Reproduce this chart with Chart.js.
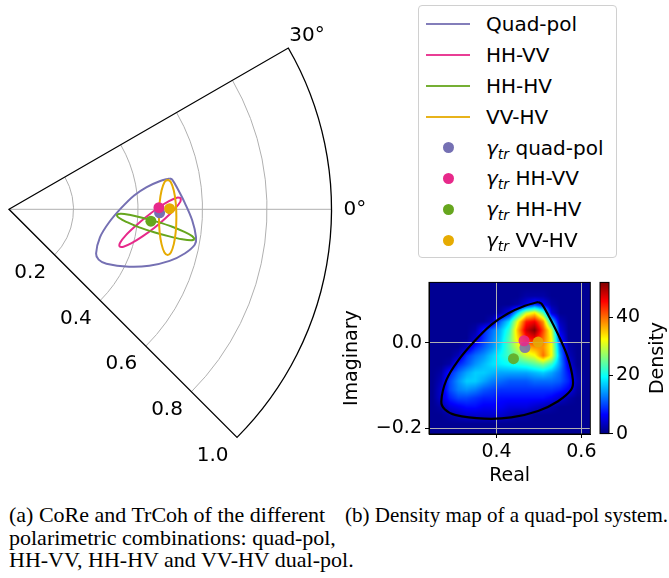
<!DOCTYPE html>
<html>
<head>
<meta charset="utf-8">
<script src="https://cdn.jsdelivr.net/npm/chart.js@4/dist/chart.umd.min.js"></script>
<style>
  html, body { margin: 0; padding: 0; background: #fff; }
  #page { position: relative; width: 669px; height: 578px; overflow: hidden; font-family: "DejaVu Sans", sans-serif; }
  canvas { position: absolute; }
  #polar { left: 0; top: 0; }
  #density { left: 341px; top: 268px; }
  #cbar { left: 595px; top: 268px; }
  #legend { position: absolute; left: 418px; top: 5px; width: 199px; height: 253px; box-sizing: border-box;
            border: 1px solid #d0d0d0; border-radius: 4px; background: #fff; }
  .row { position: absolute; left: 0; width: 100%; height: 24px; }
  .row .hl { position: absolute; left: 7px; top: 11px; width: 44px; height: 2px; opacity: 0.9; }
  .row .dot { position: absolute; left: 23.5px; top: 6.3px; width: 11.4px; height: 11.4px; border-radius: 50%; }
  .row .lbl { position: absolute; left: 67px; top: 0; line-height: 24px; font-size: 20px; white-space: nowrap; color: #000; }
  .row .lbl i { font-style: italic; }
  .row .lbl sub { font-size: 14px; font-style: italic; vertical-align: -4px; line-height: 0; }
  .cap { position: absolute; top: 504px; font-family: "Liberation Serif", serif; font-size: 22px; line-height: 22.5px;
         white-space: nowrap; color: #000; transform-origin: 0 0; }
</style>
</head>
<body>
<div id="page">
  <canvas id="polar" width="410" height="470"></canvas>
  <div id="legend"></div>
  <canvas id="density" width="259" height="222"></canvas>
  <canvas id="cbar" width="74" height="180"></canvas>
  <div class="cap" style="left:9px;">(a) CoRe and TrCoh of the different<br>polarimetric combinations: quad-pol,<br>HH-VV, HH-HV and VV-HV dual-pol.</div>
  <div class="cap" style="left:345px; transform: scaleX(0.956);">(b) Density map of a quad-pol system.</div>
</div>
<script>
// series
const seriesNames = ['Quad-pol', 'HH-VV', 'HH-HV', 'VV-HV'];
const gammaNames = ['quad-pol', 'HH-VV', 'HH-HV', 'VV-HV'];
const seriesColors = ['#7570b3', '#e7298a', '#66a61e', '#e6ab02'];

// coherence regions (real / imaginary parts)
const quadRe = [0.498, 0.467, 0.427, 0.388, 0.349, 0.310, 0.282, 0.270, 0.278, 0.302, 0.372, 0.435, 0.498, 0.545, 0.576, 0.580, 0.568, 0.545, 0.522, 0.506, 0.498];
const quadIm = [0.096, 0.087, 0.069, 0.043, 0.005, -0.041, -0.087, -0.137, -0.156, -0.169, -0.178, -0.175, -0.160, -0.137, -0.110, -0.087, -0.034, 0.020, 0.065, 0.092, 0.096];
const hhvvRe = [0.533, 0.521, 0.496, 0.462, 0.425, 0.390, 0.362, 0.345, 0.343, 0.355, 0.380, 0.414, 0.451, 0.486, 0.514, 0.531, 0.533];
const hhvvIm = [0.035, 0.036, 0.025, 0.004, -0.024, -0.054, -0.081, -0.103, -0.115, -0.116, -0.105, -0.084, -0.057, -0.027, 0.001, 0.023, 0.035];
const hhhvRe = [0.576, 0.568, 0.544, 0.506, 0.460, 0.413, 0.373, 0.346, 0.335, 0.342, 0.366, 0.404, 0.450, 0.497, 0.537, 0.565, 0.576];
const hhhvIm = [-0.093, -0.083, -0.070, -0.054, -0.039, -0.026, -0.017, -0.014, -0.018, -0.027, -0.040, -0.056, -0.071, -0.084, -0.093, -0.096, -0.093];
const vvhvRe = [0.492, 0.502, 0.511, 0.517, 0.519, 0.517, 0.511, 0.502, 0.492, 0.482, 0.473, 0.467, 0.465, 0.467, 0.473, 0.482, 0.492];
const vvhvIm = [0.092, 0.084, 0.058, 0.020, -0.025, -0.070, -0.108, -0.134, -0.142, -0.134, -0.108, -0.070, -0.025, 0.020, 0.058, 0.084, 0.092];

// gamma_tr points
const gammaRe = [0.467, 0.465, 0.440, 0.498];
const gammaIm = [-0.011, 0.005, -0.037, 0.002];

// polar axis
const radialTicks = [0.2, 0.4, 0.6, 0.8, 1.0];
const ringValues = [0.2, 0.4, 0.6, 0.8];
const thetaLimits = [-45, 30];
const thetaGrid = [0];
const thetaLabels = ['30°', '0°'];

// density map (cell centres and values)
const densityX = [0.25, 0.27, 0.29, 0.31, 0.33, 0.35, 0.37, 0.39, 0.41, 0.43, 0.45, 0.47, 0.49, 0.51, 0.53, 0.55, 0.57, 0.59, 0.61];
const densityY = [0.13, 0.11, 0.09, 0.07, 0.05, 0.03, 0.01, -0.01, -0.03, -0.05, -0.07, -0.09, -0.11, -0.13, -0.15, -0.17, -0.19, -0.21];
const densityRows = [
  [1, 1, 1, 1, 1, 1, 1, 1, 1, 1, 1, 1, 1, 1, 1, 1, 1, 1, 1],
  [1, 1, 1, 1, 1, 1, 1, 1, 1, 1, 1, 2, 2, 2, 1, 1, 1, 1, 1],
  [1, 1, 1, 1, 1, 1, 1, 1, 1, 1, 2, 5, 9, 6, 2, 1, 1, 1, 1],
  [1, 1, 1, 1, 1, 1, 1, 1, 2, 6, 18, 30, 34, 24, 5, 1, 1, 1, 1],
  [1, 1, 1, 1, 1, 1, 1, 3, 12, 18, 32, 44, 46, 38, 18, 3, 1, 1, 1],
  [1, 1, 1, 1, 1, 2, 8, 12, 16, 22, 36, 48, 52, 42, 30, 5, 1, 1, 1],
  [1, 1, 1, 1, 1, 4, 9, 13, 17, 24, 34, 44, 46, 40, 32, 8, 1, 1, 1],
  [1, 1, 1, 1, 3, 8, 11, 14, 18, 24, 30, 36, 38, 38, 32, 12, 2, 1, 1],
  [1, 1, 1, 3, 9, 12, 14, 17, 20, 23, 26, 30, 32, 40, 32, 14, 3, 1, 1],
  [1, 1, 2, 8, 11, 14, 16, 18, 19, 20, 21, 22, 24, 26, 22, 14, 5, 1, 1],
  [1, 2, 8, 12, 15, 17, 17, 16, 15, 15, 15, 15, 16, 17, 15, 12, 7, 2, 1],
  [1, 3, 10, 14, 17, 17, 15, 13, 12, 11, 11, 11, 12, 12, 12, 11, 8, 3, 1],
  [1, 4, 10, 13, 14, 13, 11, 10, 9, 9, 9, 9, 9, 9, 9, 8, 6, 2, 1],
  [1, 4, 8, 10, 10, 9, 8, 8, 7, 7, 7, 7, 7, 7, 6, 4, 2, 1, 1],
  [1, 2, 5, 6, 7, 7, 6, 6, 6, 5, 5, 5, 4, 3, 2, 1, 1, 1, 1],
  [1, 1, 2, 3, 4, 4, 4, 4, 4, 3, 2, 2, 1, 1, 1, 1, 1, 1, 1],
  [1, 1, 1, 1, 1, 1, 1, 1, 1, 1, 1, 1, 1, 1, 1, 1, 1, 1, 1],
  [1, 1, 1, 1, 1, 1, 1, 1, 1, 1, 1, 1, 1, 1, 1, 1, 1, 1, 1]
];
const realTicks = [0.4, 0.6];
const imagTicks = [-0.2, 0.0];
const densityTicks = [0, 20, 40];
const densityMax = 52;

const curves = [[quadRe, quadIm], [hhvvRe, hhvvIm], [hhhvRe, hhhvIm], [vvhvRe, vvhvIm]];
const pts = (re, im) => re.map((x, i) => ({ x: x, y: im[i] }));
const rad = d => d * Math.PI / 180;
const tickFmt = v => (v < 0 ? '\u2212' : '') + Math.abs(v).toFixed(1);

function jet(t) {
  t = Math.max(0, Math.min(1, t));
  const c = v => Math.round(255 * Math.max(0, Math.min(1, v)));
  return [c(1.5 - Math.abs(4 * t - 3)), c(1.5 - Math.abs(4 * t - 2)), c(1.5 - Math.abs(4 * t - 1))];
}

// ---------- legend ----------
(function () {
  const box = document.getElementById('legend');
  function addRow(i, kind, color, html) {
    const row = document.createElement('div');
    row.className = 'row';
    row.style.top = (17.7 + 30.95 * i - 12) + 'px';
    const mark = document.createElement('div');
    mark.className = kind;
    mark.style.background = color;
    row.appendChild(mark);
    const lbl = document.createElement('div');
    lbl.className = 'lbl';
    lbl.innerHTML = html;
    row.appendChild(lbl);
    box.appendChild(row);
  }
  seriesNames.forEach((n, i) => addRow(i, 'hl', seriesColors[i], n));
  gammaNames.forEach((n, i) => addRow(4 + i, 'dot', seriesColors[i], '<i>\u03b3</i><sub>tr</sub> ' + n));
})();

// ---------- (a) polar wedge ----------
const R_PX = 322.5, OX = 9, OY = 209.3;
const polarCanvas = document.getElementById('polar');

const polarGrid = {
  id: 'polarGrid',
  beforeDatasetsDraw(chart) {
    const { ctx, scales: { x, y } } = chart;
    const ox = x.getPixelForValue(0), oy = y.getPixelForValue(0);
    const rp = v => x.getPixelForValue(v) - ox;
    const a0 = -rad(thetaLimits[1]), a1 = -rad(thetaLimits[0]);
    ctx.save();
    ctx.strokeStyle = '#b0b0b0';
    ctx.lineWidth = 1;
    ringValues.forEach(r => { ctx.beginPath(); ctx.arc(ox, oy, rp(r), a0, a1); ctx.stroke(); });
    thetaGrid.forEach(t => {
      ctx.beginPath();
      ctx.moveTo(ox, oy);
      ctx.lineTo(x.getPixelForValue(Math.cos(rad(t))), y.getPixelForValue(Math.sin(rad(t))));
      ctx.stroke();
    });
    ctx.strokeStyle = '#000';
    ctx.lineWidth = 1.3;
    ctx.beginPath();
    ctx.moveTo(ox, oy);
    ctx.arc(ox, oy, rp(1), a0, a1);
    ctx.closePath();
    ctx.stroke();
    ctx.restore();
  },
  afterDraw(chart) {
    const { ctx, scales: { x, y } } = chart;
    const oy = y.getPixelForValue(0);
    ctx.save();
    ctx.fillStyle = '#000';
    ctx.font = '20px "DejaVu Sans"';
    ctx.textBaseline = 'middle';
    ctx.textAlign = 'center';
    const c45 = Math.cos(rad(thetaLimits[0])), s45 = Math.sin(rad(thetaLimits[0]));
    radialTicks.forEach(r => {
      const px = x.getPixelForValue(r * c45), py = y.getPixelForValue(r * s45);
      ctx.fillText(r.toFixed(1), px - 24.4, py + 18);
    });
    ctx.textAlign = 'left';
    const tx = x.getPixelForValue(Math.cos(rad(thetaLimits[1]))), ty = y.getPixelForValue(Math.sin(rad(thetaLimits[1])));
    ctx.fillText(thetaLabels[0], tx + 1, ty - 12);
    ctx.fillText(thetaLabels[1], x.getPixelForValue(1) + 12, oy);
    ctx.restore();
  }
};

new Chart(polarCanvas, {
  type: 'scatter',
  data: {
    datasets: [
      ...curves.map((c, i) => ({
        label: seriesNames[i], data: pts(c[0], c[1]), showLine: true, fill: false,
        borderColor: seriesColors[i], borderWidth: 2, pointRadius: 0, tension: 0.35, order: 20 - i
      })),
      ...gammaRe.map((g, i) => ({
        label: 'γtr ' + gammaNames[i], data: [{ x: g, y: gammaIm[i] }], showLine: false,
        pointRadius: 5.5, pointBackgroundColor: seriesColors[i], pointBorderColor: seriesColors[i], pointBorderWidth: 0, order: 10 - i
      }))
    ]
  },
  options: {
    responsive: false, animation: false, events: [],
    layout: { padding: 0, autoPadding: false },
    plugins: { legend: { display: false }, tooltip: { enabled: false } },
    scales: {
      x: { type: 'linear', display: false, min: -OX / R_PX, max: (polarCanvas.width - OX) / R_PX },
      y: { type: 'linear', display: false, min: -(polarCanvas.height - OY) / R_PX, max: OY / R_PX }
    }
  },
  plugins: [polarGrid]
});

// ---------- (b) density map ----------
const densityPlugin = {
  id: 'densityMap',
  beforeDraw(chart) {
    const { ctx, chartArea: a, scales: { x, y } } = chart;
    const w = Math.round(a.right - a.left), h = Math.round(a.bottom - a.top);
    const off = document.createElement('canvas');
    off.width = w; off.height = h;
    const octx = off.getContext('2d');
    const img = octx.createImageData(w, h);
    const nx = densityX.length, ny = densityY.length;
    const dx = densityX[1] - densityX[0], dy = densityY[1] - densityY[0];
    for (let j = 0; j < h; j++) {
      let fy = (y.getValueForPixel(a.top + j + 0.5) - densityY[0]) / dy;
      fy = Math.max(0, Math.min(ny - 1, fy));
      const j0 = Math.min(ny - 2, Math.floor(fy)), ty = fy - j0;
      for (let i = 0; i < w; i++) {
        let fx = (x.getValueForPixel(a.left + i + 0.5) - densityX[0]) / dx;
        fx = Math.max(0, Math.min(nx - 1, fx));
        const i0 = Math.min(nx - 2, Math.floor(fx)), tx = fx - i0;
        const r0 = densityRows[j0], r1 = densityRows[j0 + 1];
        const v = (r0[i0] * (1 - tx) + r0[i0 + 1] * tx) * (1 - ty) + (r1[i0] * (1 - tx) + r1[i0 + 1] * tx) * ty;
        const c = jet(v / densityMax);
        const k = (j * w + i) * 4;
        img.data[k] = c[0]; img.data[k + 1] = c[1]; img.data[k + 2] = c[2]; img.data[k + 3] = 255;
      }
    }
    octx.putImageData(img, 0, 0);
    ctx.drawImage(off, a.left, a.top);
  },
  afterDraw(chart) {
    const { ctx, chartArea: a } = chart;
    ctx.save();
    ctx.strokeStyle = '#000';
    ctx.lineWidth = 1;
    ctx.strokeRect(a.left, a.top, a.right - a.left, a.bottom - a.top);
    ctx.restore();
  }
};

const axisFont = { family: 'DejaVu Sans', size: 19 };

new Chart(document.getElementById('density'), {
  type: 'scatter',
  data: {
    datasets: [
      {
        label: seriesNames[0], data: pts(quadRe, quadIm), showLine: true, fill: false,
        borderColor: '#000', borderWidth: 2.2, pointRadius: 0, tension: 0.35, order: 20
      },
      ...gammaRe.map((g, i) => ({
        label: 'γtr ' + gammaNames[i], data: [{ x: g, y: gammaIm[i] }], showLine: false,
        pointRadius: 5.5, pointBackgroundColor: seriesColors[i] + 'dd', pointBorderWidth: 0, order: 10 - i
      }))
    ]
  },
  options: {
    responsive: false, animation: false, events: [],
    layout: { padding: { left: 0, top: 11, right: 9, bottom: 0 }, autoPadding: false },
    plugins: { legend: { display: false }, tooltip: { enabled: false } },
    scales: {
      x: {
        type: 'linear', min: 0.241, max: 0.621,
        afterBuildTicks: s => { s.ticks = realTicks.map(v => ({ value: v })); },
        afterFit: s => { s.height = 56; },
        ticks: { color: '#000', font: axisFont, padding: 3, maxRotation: 0, autoSkip: false, callback: tickFmt },
        grid: { color: '#b0b0b0', lineWidth: 1, tickLength: 4, tickColor: '#000', tickWidth: 1 },
        border: { display: true, color: '#000', width: 1 },
        title: { display: true, text: 'Real', color: '#000', font: axisFont, padding: { top: 0, bottom: 3 } }
      },
      y: {
        type: 'linear', min: -0.214, max: 0.142,
        afterBuildTicks: s => { s.ticks = imagTicks.map(v => ({ value: v })); },
        afterFit: s => { s.width = 88; },
        ticks: { color: '#000', font: axisFont, padding: 3, autoSkip: false, callback: tickFmt },
        grid: { color: '#b0b0b0', lineWidth: 1, tickLength: 4, tickColor: '#000', tickWidth: 1 },
        border: { display: true, color: '#000', width: 1 },
        title: { display: true, text: 'Imaginary', color: '#000', font: axisFont, padding: { top: 0, bottom: 4 } }
      }
    }
  },
  plugins: [densityPlugin]
});

// ---------- colorbar ----------
const colorbarPlugin = {
  id: 'colorbar',
  beforeDraw(chart) {
    const { ctx, chartArea: a, scales: { y } } = chart;
    ctx.save();
    for (let py = Math.floor(a.top); py < a.bottom; py++) {
      const c = jet(y.getValueForPixel(py + 0.5) / densityMax);
      ctx.fillStyle = 'rgb(' + c.join(',') + ')';
      ctx.fillRect(a.left, py, a.right - a.left, 1);
    }
    ctx.restore();
  },
  afterDraw(chart) {
    const { ctx, chartArea: a } = chart;
    ctx.save();
    ctx.strokeStyle = '#000';
    ctx.lineWidth = 1;
    ctx.strokeRect(a.left, a.top, a.right - a.left, a.bottom - a.top);
    ctx.translate(63, (a.top + a.bottom) / 2);
    ctx.rotate(-Math.PI / 2);
    ctx.fillStyle = '#000';
    ctx.font = '19px "DejaVu Sans"';
    ctx.textAlign = 'center';
    ctx.textBaseline = 'middle';
    ctx.fillText('Density', 0, 0);
    ctx.restore();
  }
};

new Chart(document.getElementById('cbar'), {
  type: 'scatter',
  data: { datasets: [] },
  options: {
    responsive: false, animation: false, events: [],
    layout: { padding: { left: 5, top: 11, right: 0, bottom: 14 }, autoPadding: false },
    plugins: { legend: { display: false }, tooltip: { enabled: false } },
    scales: {
      x: { type: 'linear', display: false, min: 0, max: 1 },
      y: {
        type: 'linear', position: 'right', min: 0, max: densityMax,
        afterBuildTicks: s => { s.ticks = densityTicks.map(v => ({ value: v })); },
        afterFit: s => { s.width = 60; },
        ticks: { color: '#000', font: axisFont, padding: 3, autoSkip: false },
        grid: { drawOnChartArea: false, tickLength: 4, tickColor: '#000', tickWidth: 1 },
        border: { display: false }
      }
    }
  },
  plugins: [colorbarPlugin]
});
</script>
</body>
</html>
